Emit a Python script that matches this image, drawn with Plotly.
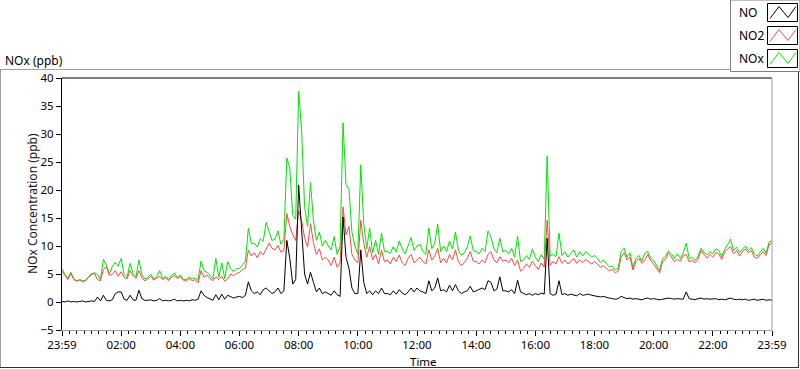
import pandas as pd
import plotly.graph_objects as go

# ---- data (6-minute samples from 23:59 to 23:59 next day) ----
no2_ppb = [
    5.5, 4.8, 4.0, 5.1, 4.0, 3.7, 3.9, 3.6, 3.8, 4.4,
    4.9, 5.1, 4.0, 3.8, 5.8, 6.3, 4.8, 4.9, 5.6, 4.6,
    5.4, 4.4, 4.1, 5.6, 4.7, 4.2, 5.6, 4.3, 3.8, 4.1,
    4.6, 3.9, 4.2, 4.6, 4.0, 4.3, 3.8, 4.4, 4.7, 4.2,
    4.5, 3.9, 3.7, 4.2, 3.8, 4.0, 3.4, 5.6, 4.4, 4.8,
    4.2, 3.8, 4.5, 4.0, 4.6, 3.7, 4.1, 5.0, 4.7, 5.1,
    5.3, 5.8, 6.0, 9.3, 8.2, 8.8, 7.9, 9.0, 8.4, 9.6,
    10.5, 9.6, 9.3, 10.1, 8.9, 9.2, 15.8, 13.5, 12.0, 11.0,
    16.3, 14.5, 11.5, 9.8, 14.0, 10.5, 8.5, 9.5, 7.5, 8.0,
    7.5, 6.5, 8.0, 6.2, 7.0, 17.0, 12.0, 13.5, 8.5, 7.5,
    7.0, 14.6, 10.5, 8.0, 9.9, 7.5, 8.5, 6.8, 9.3, 7.2,
    7.5, 6.8, 8.0, 7.2, 8.4, 7.0, 6.5, 7.8, 8.5, 7.0,
    7.5, 8.0, 7.2, 6.8, 9.3, 7.5, 8.2, 9.6, 7.0, 7.8,
    7.0, 8.5, 7.5, 9.3, 7.2, 6.5, 7.0, 7.8, 9.0, 7.3,
    7.2, 6.8, 7.5, 7.0, 8.5, 9.0, 7.5, 7.0, 8.1, 7.3,
    7.5, 7.0, 7.8, 6.5, 7.5, 5.5, 6.0, 6.8, 6.2, 7.3,
    6.5, 5.8, 7.0, 6.2, 14.6, 6.5, 7.2, 6.8, 8.1, 6.9,
    7.5, 6.8, 7.2, 7.8, 6.9, 7.5, 7.0, 7.6, 7.2, 6.8,
    7.2, 6.8, 6.2, 6.5, 6.0, 5.6, 5.8, 5.2, 5.5, 8.0,
    8.8, 7.5, 8.0, 5.7, 7.2, 7.8, 6.9, 7.5, 8.5, 7.4,
    6.8, 6.0, 5.2, 7.2, 7.6, 8.8, 8.0, 7.2, 7.6, 7.3,
    8.3, 8.5, 7.2, 7.4, 7.0, 7.6, 9.2, 8.4, 7.8, 8.5,
    8.0, 8.8, 8.6, 7.6, 8.9, 9.5, 9.9, 8.6, 9.2, 8.2,
    9.0, 9.5, 8.8, 9.2, 8.0, 7.8, 8.4, 9.0, 8.3, 10.2,
    10.5,
]

no_ppb = [
    0.1, 0.0, 0.2, 0.0, 0.1, 0.0, 0.1, 0.2, 0.0, 0.1,
    0.2, 0.1, 0.9, 0.2, 1.2, 0.3, 0.2, 0.4, 1.5, 1.8,
    1.8, 0.5, 0.3, 1.2, 0.4, 0.3, 2.1, 0.6, 0.3, 0.3,
    0.4, 0.2, 0.3, 0.6, 0.2, 0.3, 0.2, 0.3, 0.5, 0.2,
    0.3, 0.2, 0.3, 0.2, 0.4, 0.3, 0.5, 2.0, 1.2, 0.8,
    0.5, 0.3, 1.3, 0.4, 1.4, 0.5, 1.2, 1.0, 0.7, 0.9,
    1.0, 0.8, 1.2, 3.6, 2.0, 1.5, 1.8, 1.3, 2.2, 2.5,
    2.0, 1.5, 1.8, 2.5, 1.5, 2.0, 11.0, 7.8, 3.2, 4.0,
    20.9, 13.7, 5.0, 3.2, 5.3, 3.5, 1.8, 2.5, 1.5, 1.8,
    1.5, 1.2, 2.0, 1.3, 1.0, 15.2, 8.0, 6.0, 2.5, 1.5,
    1.5, 9.3, 3.5, 1.5, 2.0, 1.3, 2.0, 1.5, 2.5, 1.5,
    1.5, 1.3, 2.0, 1.4, 2.2, 1.6, 1.3, 1.8, 2.5, 1.8,
    2.5, 2.0, 1.8, 1.5, 3.8, 2.0, 2.5, 4.3, 2.0, 2.2,
    1.8, 3.0, 2.0, 3.1, 2.0, 1.5, 1.8, 2.0, 2.8, 1.8,
    2.0, 2.3, 2.5, 2.2, 3.8, 3.5, 2.0, 2.3, 4.5, 2.0,
    2.0, 1.8, 2.2, 1.5, 3.9, 1.8, 1.5, 1.3, 1.5, 1.2,
    1.5, 1.3, 1.6, 1.4, 11.4, 1.5, 1.2, 1.4, 3.8, 1.3,
    1.5, 1.2, 1.4, 1.3, 1.1, 1.5, 1.2, 1.3, 1.4, 1.2,
    1.1, 1.0, 0.9, 1.0, 0.8, 0.7, 0.6, 0.5, 0.6, 1.0,
    0.8, 0.6, 0.7, 0.5, 0.6, 0.5, 0.4, 0.6, 0.7, 0.5,
    0.6, 0.5, 0.4, 0.5, 0.6, 0.7, 0.6, 0.5, 0.6, 0.5,
    0.5, 1.8, 0.6, 0.5, 0.4, 0.6, 0.7, 0.5, 0.6, 0.5,
    0.5, 0.6, 0.4, 0.5, 0.4, 0.6, 0.7, 0.5, 0.4, 0.5,
    0.4, 0.5, 0.3, 0.4, 0.5, 0.3, 0.4, 0.5, 0.3, 0.4,
    0.3,
]

nox_ppb = [
    5.9, 4.9, 4.3, 5.3, 4.1, 3.8, 4.0, 3.8, 3.9, 4.6,
    5.1, 5.2, 4.9, 4.0, 7.6, 6.6, 5.0, 6.3, 7.1, 6.4,
    7.8, 4.9, 4.4, 6.9, 5.1, 4.5, 7.5, 4.9, 4.1, 4.4,
    5.0, 4.1, 4.5, 5.6, 4.2, 4.6, 4.0, 4.7, 5.2, 4.4,
    4.8, 4.1, 4.0, 4.4, 4.2, 4.3, 3.9, 7.3, 5.6, 5.3,
    4.8, 4.1, 7.8, 4.4, 7.0, 4.2, 7.2, 6.0, 5.4, 6.0,
    6.0, 6.6, 7.3, 13.2, 10.4, 10.5, 9.8, 11.3, 10.8, 14.2,
    12.5, 11.0, 11.2, 12.7, 10.3, 11.2, 25.7, 23.9, 15.5, 14.8,
    37.6, 30.6, 17.0, 13.5, 21.3, 14.5, 11.0, 12.5, 10.0, 11.0,
    10.0, 9.3, 11.7, 8.5, 9.9, 32.0, 21.0, 20.1, 12.5, 10.0,
    8.5, 24.5, 14.0, 9.5, 13.2, 8.8, 11.0, 8.5, 12.3, 9.0,
    9.0, 8.7, 9.9, 8.9, 10.9, 9.5, 8.6, 10.2, 11.5, 9.2,
    10.0, 10.3, 9.0, 8.5, 13.2, 9.5, 10.5, 13.9, 9.0, 10.0,
    9.0, 10.9, 9.5, 12.5, 9.2, 8.3, 8.8, 9.8, 11.8, 9.2,
    9.0, 8.6, 9.6, 9.0, 12.7, 11.6, 9.5, 8.8, 11.4, 9.0,
    9.2, 8.6, 9.6, 8.0, 11.8, 7.2, 7.5, 8.3, 7.6, 9.5,
    8.0, 7.2, 8.5, 7.6, 26.1, 8.2, 8.5, 8.1, 12.3, 8.3,
    9.0, 8.0, 8.6, 9.3, 8.0, 9.0, 8.2, 9.0, 8.6, 8.0,
    8.3, 7.8, 7.0, 7.5, 6.8, 6.3, 6.4, 5.7, 6.0, 9.0,
    9.6, 8.0, 8.8, 6.1, 7.8, 8.3, 7.3, 8.7, 9.0, 7.8,
    7.4, 6.5, 5.6, 7.7, 8.2, 9.1, 8.6, 7.7, 8.6, 7.8,
    8.8, 10.5, 7.8, 7.9, 7.4, 8.2, 9.6, 8.9, 8.4, 9.0,
    8.6, 9.5, 9.2, 8.1, 9.4, 10.2, 11.2, 9.2, 9.8, 8.8,
    9.5, 10.0, 9.2, 9.7, 8.6, 8.2, 8.9, 9.6, 8.7, 10.7,
    10.9,
]

x_tick_labels = ["23:59", "02:00", "04:00", "06:00", "08:00", "10:00", "12:00",
                 "14:00", "16:00", "18:00", "20:00", "22:00", "23:59"]
y_ticks = [-5, 0, 5, 10, 15, 20, 25, 30, 35, 40]

series_names = ["NO", "NO2", "NOx"]
series_colors = {"NO": "#000000", "NO2": "#ff4646", "NOx": "#00e600"}

times = pd.date_range("2021-03-01 23:59", periods=len(no_ppb), freq="6min")
tick_times = pd.date_range("2021-03-01 23:59", periods=len(x_tick_labels), freq="120min")

FONT = "Noto Sans"
W, H = 800, 369
L, R, T, B = 62, 772, 78, 330


def px(x):
    return (x - L) / (R - L)


def py(y):
    return (B - y) / (B - T)


fig = go.Figure()
for name, vals in [("NOx", nox_ppb), ("NO2", no2_ppb), ("NO", no_ppb)]:
    fig.add_trace(go.Scatter(x=times, y=vals, mode="lines", name=name,
                             line=dict(color=series_colors[name], width=1),
                             showlegend=False))

shapes = []
# outer frame
shapes.append(dict(type="line", xref="paper", yref="paper", x0=px(0), x1=px(730), y0=py(69.5), y1=py(69.5),
                   line=dict(color="#a0a0a0", width=1)))
shapes.append(dict(type="line", xref="paper", yref="paper", x0=px(0.5), x1=px(0.5), y0=py(69.5), y1=py(367.5),
                   line=dict(color="#a0a0a0", width=1)))
shapes.append(dict(type="line", xref="paper", yref="paper", x0=px(0), x1=px(799), y0=py(367.5), y1=py(367.5),
                   line=dict(color="#303030", width=1)))
shapes.append(dict(type="line", xref="paper", yref="paper", x0=px(798.5), x1=px(798.5), y0=py(72), y1=py(368),
                   line=dict(color="#303030", width=1)))
# plot area border (top black, right gray)
shapes.append(dict(type="line", xref="paper", yref="paper", x0=0, x1=1, y0=1, y1=1,
                   line=dict(color="#000000", width=1)))
shapes.append(dict(type="line", xref="paper", yref="paper", x0=1, x1=1, y0=0, y1=1,
                   line=dict(color="#a0a0a0", width=1)))
# legend box
shapes.append(dict(type="rect", xref="paper", yref="paper", x0=px(730.5), x1=px(800), y0=py(0), y1=py(71.5),
                   fillcolor="white", line=dict(color="#808080", width=1)))
annotations = []
for i, name in enumerate(series_names):
    top = 3.5 + 23 * i
    shapes.append(dict(type="rect", xref="paper", yref="paper", x0=px(767.5), x1=px(797.5),
                       y0=py(top), y1=py(top + 18), fillcolor="white",
                       line=dict(color="#000000", width=1)))
    path = "M {:.5f},{:.5f} L {:.5f},{:.5f} L {:.5f},{:.5f} L {:.5f},{:.5f}".format(
        px(770), py(top + 15), px(779), py(top + 3), px(788), py(top + 14), px(796), py(top + 3))
    shapes.append(dict(type="path", xref="paper", yref="paper", path=path,
                       line=dict(color=series_colors[name], width=1)))
    annotations.append(dict(text=name, xref="paper", yref="paper", x=px(737), y=py(top + 9),
                            xanchor="left", yanchor="middle", showarrow=False,
                            font=dict(family=FONT, size=12, color="#000000")))

annotations.append(dict(text="NOx (ppb)", xref="paper", yref="paper", x=px(3), y=py(60),
                        xanchor="left", yanchor="middle", showarrow=False,
                        font=dict(family=FONT, size=12, color="#000000")))
annotations.append(dict(text="NOx Concentration (ppb)", xref="paper", yref="paper", x=px(32), y=0.5,
                        xanchor="center", yanchor="middle", textangle=-90, showarrow=False,
                        font=dict(family=FONT, size=12, color="#1a1a1a")))
annotations.append(dict(text="Time", xref="paper", yref="paper", x=px(423), y=py(361),
                        xanchor="center", yanchor="middle", showarrow=False,
                        font=dict(family=FONT, size=11.5, color="#000000")))

fig.update_layout(
    width=W, height=H,
    margin=dict(l=L, r=W - R, t=T, b=H - B, pad=0),
    paper_bgcolor="white", plot_bgcolor="white",
    font=dict(family=FONT, size=12, color="#000000"),
    shapes=shapes, annotations=annotations,
    xaxis=dict(
        range=[times[0], times[-1]],
        tickmode="array", tickvals=tick_times, ticktext=x_tick_labels,
        ticks="outside", ticklen=5, tickcolor="#000000", tickwidth=1,
        ticklabelstandoff=-1,
        showline=True, linecolor="#a0a0a0", linewidth=1,
        showgrid=False, zeroline=False,
        minor=dict(ticks="outside", ticklen=3, tickcolor="#000000", dtick=15 * 60 * 1000,
                   tick0=times[0], showgrid=False),
        tickfont=dict(family=FONT, size=11.5),
    ),
    yaxis=dict(
        range=[-5, 40], tickmode="array", tickvals=y_ticks,
        ticks="outside", ticklen=5, tickcolor="#000000",
        showline=True, linecolor="#000000", linewidth=1,
        showgrid=False, zeroline=False,
        tickfont=dict(family=FONT, size=11.5),
    ),
)

fig.write_html("out.html", config={"displayModeBar": False},
               post_script="document.body.style.margin='0px';document.body.style.overflow='hidden';")
